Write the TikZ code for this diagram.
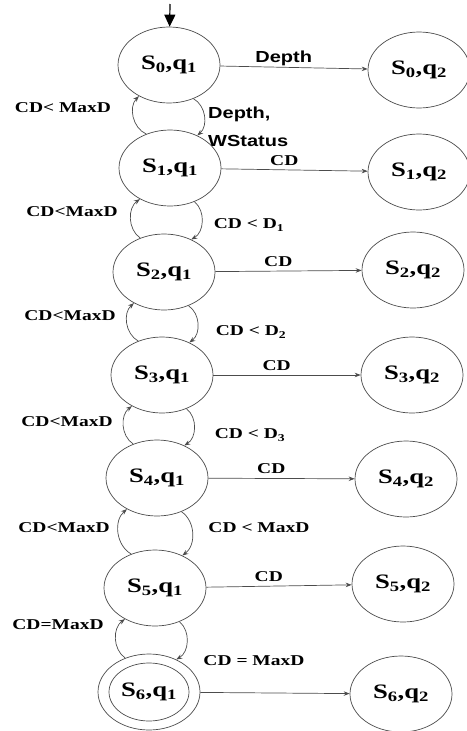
\documentclass[tikz,border=0pt]{standalone}
\usepackage{fontspec}
\setmainfont{Liberation Serif}
\newfontfamily\serifwide[FakeStretch=1.3]{Liberation Serif}
\newfontfamily\sanswide[FakeStretch=1.25]{Liberation Sans}
\usetikzlibrary{shapes.geometric,arrows.meta}

\tikzset{
  state/.style={ellipse, draw=black!70, line width=0.7pt, minimum width=102pt,
    minimum height=76pt, inner sep=0pt, font=\serifwide\bfseries\fontsize{20.5}{24}\selectfont},
  cond/.style={inner sep=0pt, font=\serifwide\bfseries\fontsize{15}{18}\selectfont},
  condsans/.style={inner sep=0pt, font=\sanswide\bfseries\fontsize{16}{28}\selectfont},
  trans/.style={draw=black!70, line width=0.7pt, -{Stealth[length=6pt,width=4.5pt]}},
}

\begin{document}
\begin{tikzpicture}[x=1pt,y=-1pt]
\useasboundingbox (0,0) rectangle (466,731);

% q1 states on the left, q2 states on the right
\foreach \i/\xa/\ya/\xb/\yb in {0/169/65/419/70, 1/170/168/419/172, 2/164/272/413/270,
    3/162/375/412/375, 4/157/478/406/479, 5/155/588/403/584, 6/149/692/401/694} {
  \node[state] (L\i) at (\xa,\ya) {S\textsubscript{\i},q\textsubscript{1}};
  \node[state] (R\i) at (\xb,\yb) {S\textsubscript{\i},q\textsubscript{2}};
}
\draw[draw=black!70, line width=0.7pt] (L6.center) ellipse [x radius=40, y radius=29]; % final state

% start arrow
\coordinate (start) at (170,4);
\draw[line width=1.2pt, -{Triangle[length=12pt,width=11pt]}] (start) -- (L0);

% q1 -> q2
\draw[trans] (L0) -- node[pos=0.43, above=1pt, condsans] {Depth} (R0);
\foreach \i in {1,...,5} {
  \draw[trans] (L\i) -- node[pos=0.43, above=4pt, cond] {CD} (R\i);
}
\draw[trans] (L6) -- (R6);

% up and down between neighbouring states
\foreach \i in {0,...,5} {
  \pgfmathtruncatemacro{\j}{\i+1}
  \draw[trans] (L\j.125) to[bend left=55] (L\i.226);
  \draw[trans] (L\i.306) to[bend left=55] (L\j.50);
}

% conditions on the left
\node[cond] (back0) at (63,108) {CD< MaxD};
\node[cond] (back1) at (72,212) {CD<MaxD};
\node[cond] (back2) at (70,316) {CD<MaxD};
\node[cond] (back3) at (67,422) {CD<MaxD};
\node[cond] (back4) at (64,528) {CD<MaxD};
\node[cond] (back5) at (58,625) {CD=MaxD};

% conditions on the right
\node[condsans, align=left, anchor=north west] (fwd0) at (208,107) {Depth,\\WStatus};
\node[cond] (fwd1) at (249,225) {CD < D\textsubscript{1}};
\node[cond] (fwd2) at (251,332) {CD < D\textsubscript{2}};
\node[cond] (fwd3) at (250,435) {CD < D\textsubscript{3}};
\node[cond] (fwd4) at (259,528) {CD < MaxD};
\node[cond] (fwd5) at (254,661) {CD = MaxD};
\end{tikzpicture}
\end{document}
